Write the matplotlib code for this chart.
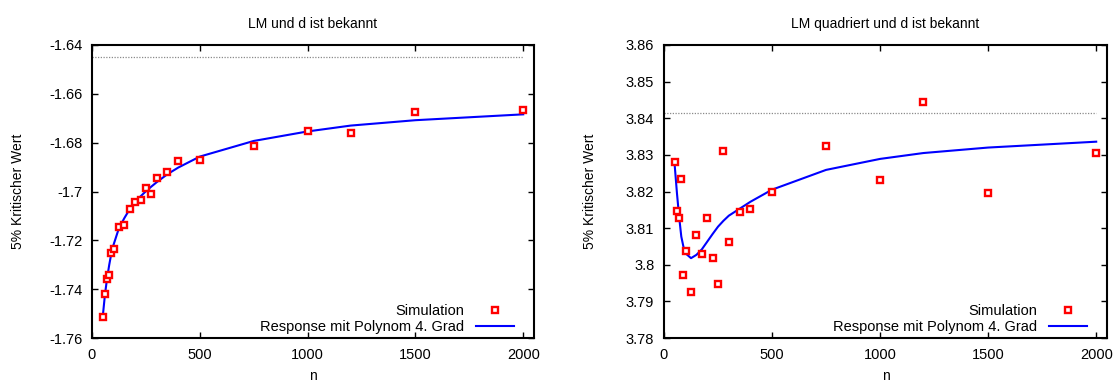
import matplotlib
matplotlib.use("Agg")
import matplotlib.pyplot as plt
from matplotlib.ticker import FixedLocator, FuncFormatter

plt.rcParams["font.family"] = ["Liberation Sans", "DejaVu Sans"]
plt.rcParams["axes.unicode_minus"] = False

# Stichprobenumfaenge
n = [50, 60, 70, 80, 90, 100, 125, 150, 175, 200, 225, 250, 275, 300,
     350, 400, 500, 750, 1000, 1200, 1500, 2000]

# LM-Statistik: simulierte 5%-Quantile und Response-Flaeche
lm_sim = [-1.7515, -1.7419, -1.7359, -1.7340, -1.7252, -1.7235, -1.7147,
          -1.7136, -1.7072, -1.7042, -1.7033, -1.6986, -1.7011, -1.6945,
          -1.6921, -1.6877, -1.6870, -1.6813, -1.6752, -1.6760, -1.6674,
          -1.6667]
lm_fit = [-1.7511, -1.7423, -1.7355, -1.7300, -1.7252, -1.7218, -1.7150,
          -1.7109, -1.7072, -1.7044, -1.7020, -1.6999, -1.6980, -1.6962,
          -1.6929, -1.6902, -1.6857, -1.6793, -1.6754, -1.6730, -1.6708,
          -1.6684]
lm_asym = -1.645

# Quadrierte LM-Statistik
lm2_sim = [3.8280, 3.8147, 3.8127, 3.8235, 3.7973, 3.8038, 3.7925, 3.8081,
           3.8029, 3.8127, 3.8019, 3.7948, 3.8311, 3.8061, 3.8144, 3.8153,
           3.8198, 3.8325, 3.8232, 3.8444, 3.8195, 3.8306]
lm2_fit = [3.8268, 3.8195, 3.8131, 3.8077, 3.8049, 3.8031, 3.8018, 3.8027,
           3.8042, 3.8063, 3.8084, 3.8104, 3.8120, 3.8134, 3.8153, 3.8172,
           3.8205, 3.8259, 3.8289, 3.8305, 3.8320, 3.8336]
lm2_asym = 3.8415

xticks = [0, 500, 1000, 1500, 2000]
lm_yticks = [-1.76, -1.74, -1.72, -1.70, -1.68, -1.66, -1.64]
lm2_yticks = [3.78, 3.79, 3.80, 3.81, 3.82, 3.83, 3.84, 3.85, 3.86]

fig = plt.figure(figsize=(11.16, 3.81), dpi=100)
W, H = 1116, 381


def make_axes(x0, x1, y0, y1):
    return fig.add_axes([x0 / W, 1 - y1 / H, (x1 - x0) / W, (y1 - y0) / H])


ax1 = make_axes(92, 534, 45, 338)
ax2 = make_axes(664, 1107, 45, 338)

panels = [
    (ax1, lm_sim, lm_fit, lm_asym, lm_yticks, "LM und d ist bekannt"),
    (ax2, lm2_sim, lm2_fit, lm2_asym, lm2_yticks, "LM quadriert und d ist bekannt"),
]

for ax, sim, fit, asym, yt, title in panels:
    ax.plot([0, 2000], [asym, asym], color="#8a8a8a", lw=0.9,
            linestyle=(0, (1, 1.2)), zorder=1)
    ax.plot(n, sim, linestyle="none", marker="s", markersize=4.6,
            markerfacecolor="white", markeredgecolor="#ff0000",
            markeredgewidth=1.7, label="Simulation", zorder=3)
    ax.plot(n, fit, color="#0000ff", lw=1.5,
            label="Response mit Polynom 4. Grad", zorder=2)
    ax.set_xlim(0, 2050)
    ax.set_ylim(yt[0], yt[-1])
    ax.xaxis.set_major_locator(FixedLocator(xticks))
    ax.yaxis.set_major_locator(FixedLocator(yt))
    ax.yaxis.set_major_formatter(FuncFormatter(lambda v, p: f"{round(v, 4):g}"))
    ax.tick_params(direction="in", length=4.5, width=1.0, top=True,
                   right=True, labelsize=10.5, pad=7)
    for s in ax.spines.values():
        s.set_linewidth(1.5)
    ax.set_title(title, fontsize=10, pad=12)
    ax.set_xlabel("n", fontsize=10, labelpad=5)
    ax.set_ylabel("5% Kritischer Wert", fontsize=10)
    ax.yaxis.set_label_coords(-0.152, 0.5)
    ax.legend(loc="lower right", bbox_to_anchor=(0.9735, -0.017),
              frameon=False, markerfirst=False, fontsize=10.5,
              handlelength=2.6, handletextpad=0.8, labelspacing=0.15,
              borderpad=0.1, numpoints=1)

fig.savefig("out.png", dpi=100)
